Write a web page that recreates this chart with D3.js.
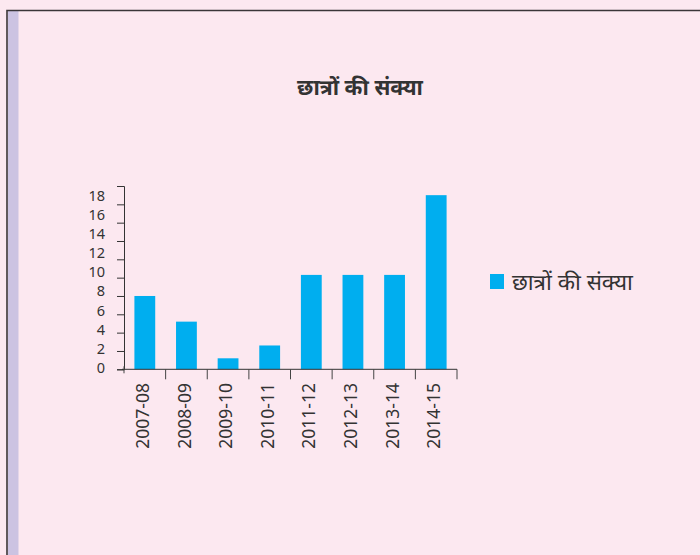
<!DOCTYPE html>
<html lang="hi">
  <head>
    <meta charset="UTF-8" />
    <script src="https://d3js.org/d3.v7.min.js"></script>
    <style>
      body {
        margin: 0;
        background: #fce8f0;
      }
      text {
        font-family: "Noto Sans", "Noto Sans Devanagari", "Open Sans", sans-serif;
        fill: #333;
      }
    </style>
    <title>छात्रों की संक्या</title>
  </head>
  <body>
    <div id="chart"></div>
    <script>
      // data
      var years = ["2007-08", "2008-09", "2009-10", "2010-11", "2011-12", "2012-13", "2013-14", "2014-15"];
      var students = [8, 5.2, 1.2, 2.6, 10.3, 10.3, 10.3, 19];
      var yTicks = [0, 2, 4, 6, 8, 10, 12, 14, 16, 18, 20];
      var yLabels = [0, 2, 4, 6, 8, 10, 12, 14, 16, 18];
      var seriesName = "छात्रों की संक्या";

      var width = 700,
        height = 555;
      var margin = { top: 186, right: 243, bottom: 186, left: 124 };

      var svg = d3
        .select("#chart")
        .append("svg")
        .attr("width", width)
        .attr("height", height);

      // page background + frame
      svg.append("rect").attr("width", width).attr("height", height).attr("fill", "#fce8f0");
      svg.append("rect").attr("x", 8).attr("y", 11).attr("width", 10.5).attr("height", height).attr("fill", "#ccc3e2");
      svg.append("path")
        .attr("d", "M7," + height + "V10.5H" + width)
        .attr("fill", "none")
        .attr("stroke", "#3a3538")
        .attr("stroke-width", 1.6);

      var x = d3
        .scaleBand()
        .domain(years)
        .range([margin.left, width - margin.right])
        .paddingInner(0.5)
        .paddingOuter(0.25);

      var y = d3
        .scaleLinear()
        .domain([0, 20])
        .range([369.3, margin.top]);

      // tick labels sit on a slightly wider spacing than the ticks in the original
      var yLab = d3.scaleLinear().domain([0, 18]).range([368, 195.5]);

      // bars
      svg
        .selectAll(".bar")
        .data(years)
        .enter()
        .append("rect")
        .attr("class", "bar")
        .attr("x", (d) => x(d))
        .attr("y", (d, i) => y(students[i]))
        .attr("width", x.bandwidth())
        .attr("height", (d, i) => y(0) - y(students[i]))
        .attr("fill", "#00aeef");

      // y axis
      var yAxis = svg
        .append("g")
        .attr("transform", "translate(" + margin.left + ",0)")
        .call(d3.axisLeft(y).tickValues(yTicks).tickSize(7).tickFormat(""));
      yAxis.select(".domain").attr("stroke", "#333");
      yAxis.selectAll(".tick line").attr("stroke", "#333");

      svg
        .selectAll(".ylab")
        .data(yLabels)
        .enter()
        .append("text")
        .attr("class", "ylab")
        .attr("x", 105)
        .attr("y", (d) => yLab(d))
        .attr("dy", "0.35em")
        .attr("text-anchor", "end")
        .style("font-size", "14.5px")
        .text((d) => d);

      // x axis: ticks on the band edges
      var bounds = years.map((d) => x(d) - x.bandwidth() / 2).concat([x(years[years.length - 1]) + x.bandwidth() * 1.5]);
      svg.append("line")
        .attr("x1", margin.left - 2)
        .attr("x2", bounds[bounds.length - 1])
        .attr("y1", y(0))
        .attr("y2", y(0))
        .attr("stroke", "#333");
      svg
        .selectAll(".xtick")
        .data(bounds)
        .enter()
        .append("line")
        .attr("x1", (d) => d)
        .attr("x2", (d) => d)
        .attr("y1", (d, i) => (i === 0 ? y(0) - 3 : y(0)))
        .attr("y2", (d, i) => (i === 0 ? y(0) + 4 : y(0) + 10))
        .attr("stroke", "#444");

      svg
        .selectAll(".xlab")
        .data(years)
        .enter()
        .append("text")
        .attr("class", "xlab")
        .attr("transform", (d) => "translate(" + (x(d) + x.bandwidth() / 2 - 2) + ",383)rotate(-90)")
        .attr("dy", "0.35em")
        .attr("text-anchor", "end")
        .style("font-size", "17.5px")
        .text((d) => d);

      // title
      svg.append("text")
        .attr("x", 360)
        .attr("y", 95)
        .attr("text-anchor", "middle")
        .style("font-size", "21.5px")
        .style("font-weight", "bold")
        .text(seriesName);

      // legend
      svg.append("rect")
        .attr("x", 490)
        .attr("y", 274)
        .attr("width", 14)
        .attr("height", 15)
        .attr("fill", "#00aeef");
      svg.append("text")
        .attr("x", 512)
        .attr("y", 290)
        .style("font-size", "22.5px")
        .text(seriesName);
    </script>
  </body>
</html>
